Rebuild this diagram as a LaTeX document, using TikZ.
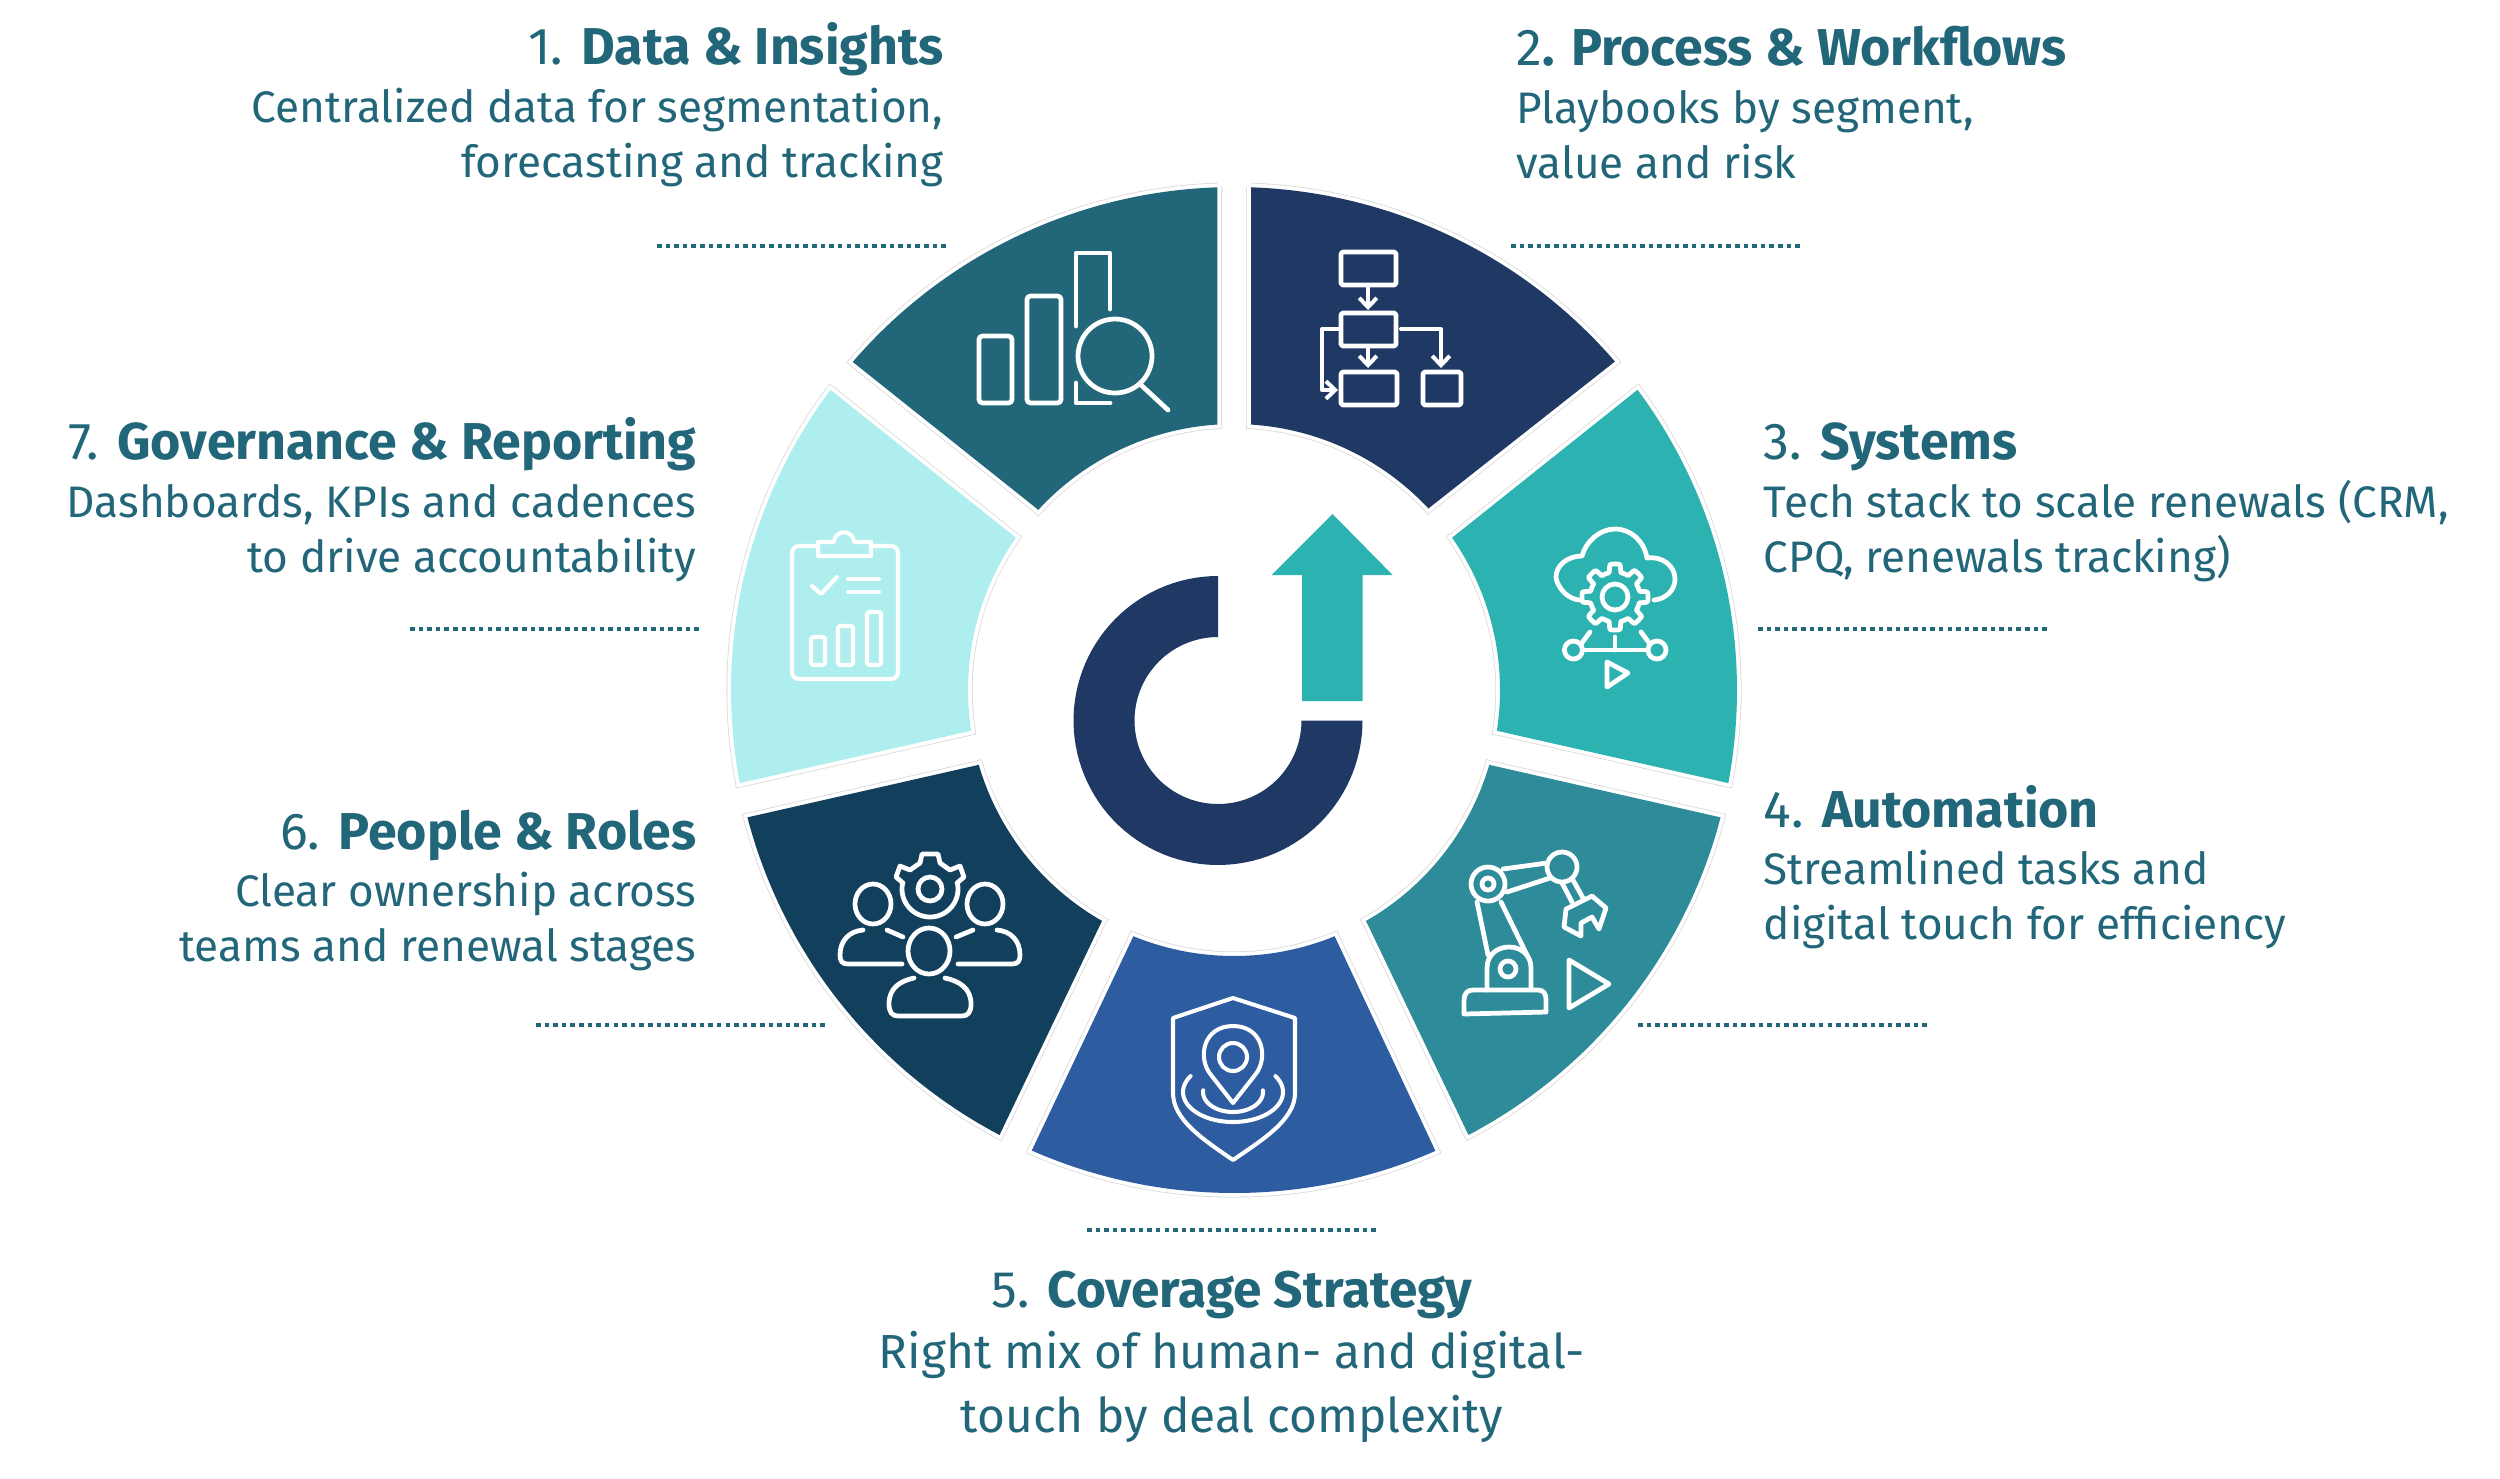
\documentclass[tikz,border=0pt]{standalone}
\usepackage{fontspec}
\setmainfont{Fira Sans}
\usetikzlibrary{arrows.meta}
\definecolor{txt}{HTML}{22667A}
\definecolor{wa}{HTML}{22667A}
\definecolor{wb}{HTML}{1F3864}
\definecolor{wc}{HTML}{2CB2B0}
\definecolor{wd}{HTML}{2E8B9A}
\definecolor{we}{HTML}{2D5CA0}
\definecolor{wf}{HTML}{113F5C}
\definecolor{wg}{HTML}{AFEEEE}
\definecolor{halo}{HTML}{D9D9D9}
\newcommand{\seg}[9]{%
  \pgfmathsetmacro{\oa}{atan2(#3-690,#2-1234)}%
  \pgfmathsetmacro{\ob}{atan2(#5-690,#4-1234)}%
  \pgfmathsetmacro{\ob}{\ob<\oa ? \ob+360 : \ob}%
  \pgfmathsetmacro{\ia}{atan2(#9-690,#8-1234)}%
  \pgfmathsetmacro{\ib}{atan2(#7-690,#6-1234)}%
  \pgfmathsetmacro{\ib}{\ib<\ia ? \ib+360 : \ib}%
  \def\segpath{(#2,#3) -- plot[domain=\oa:\ob,samples=60] ({1234+503*cos(\x)},{690+503*sin(\x)}) -- (#4,#5) -- (#6,#7) -- plot[domain=\ib:\ia,samples=40] ({1234+266*cos(\x)},{690+266*sin(\x)}) -- (#8,#9) -- cycle}%
  \draw[halo,line width=2.6pt,line join=miter] \segpath;
  \draw[white,line width=2.15pt,line join=miter] \segpath;
  \fill[#1] \segpath;
}
\newcommand{\lblR}[7]{% right-aligned: name,x,y1,y2,y3,title,lines
  \node[headtxt,anchor=base east] (#1t) at (#2,#3) {#6};
  \node[bodytxt,anchor=base east] (#1a) at (#2,#4) {\csname #7a\endcsname};
  \node[bodytxt,anchor=base east] (#1b) at (#2,#5) {\csname #7b\endcsname};
}
\newcommand{\lblL}[7]{%
  \node[headtxt,anchor=base west] (#1t) at (#2,#3) {#6};
  \node[bodytxt,anchor=base west] (#1a) at (#2,#4) {\csname #7a\endcsname};
  \node[bodytxt,anchor=base west] (#1b) at (#2,#5) {\csname #7b\endcsname};
}
\newcommand{\gearicon}[6]{% x,y,ro,ri,n,style
  \draw[#6] plot[domain=0:360,samples=220,smooth] ({#1+(#4+(#3-#4)*max(0,min(1,1.7*cos(#5*\x)+0.45)))*cos(\x)},{#2+(#4+(#3-#4)*max(0,min(1,1.7*cos(#5*\x)+0.45)))*sin(\x)}) -- cycle;
}
\def\ona{Centralized data for segmentation,}\def\onb{forecasting and tracking}
\def\twa{Playbooks by segment,}\def\twb{value and risk}
\def\tha{Tech stack to scale renewals (CRM,}\def\thb{CPQ, renewals tracking)}
\def\foa{Streamlined tasks and}\def\fob{digital touch for efficiency}
\def\sia{Clear ownership across}\def\sib{teams and renewal stages}
\def\sea{Dashboards, KPIs and cadences}\def\seb{to drive accountability}
\begin{document}
\begin{tikzpicture}[x=0.01cm,y=-0.01cm,
  headtxt/.style={inner sep=0pt,text=txt,font=\fontsize{14.75pt}{17pt}\selectfont},
  bodytxt/.style={inner sep=0pt,text=txt,font=\fontsize{12.55pt}{15pt}\selectfont},
  headbig/.style={inner sep=0pt,text=txt,font=\fontsize{14.6pt}{17pt}\selectfont},
  bodybig/.style={inner sep=0pt,text=txt,font=\fontsize{13.6pt}{16pt}\selectfont},
  dotrule/.style={draw=txt,line width=1.28pt,dash pattern=on 1.28pt off 1.17pt},
  ic/.style={draw=white,line width=1.35pt,line join=round,line cap=round},
  icthin/.style={draw=white,line width=1.15pt,line join=round,line cap=round}]
\useasboundingbox (0,0) rectangle (2500,1478);
\fill[white] (0,0) rectangle (2500,1478);

% wedges
\seg{wa}{853.7}{362.7}{1217.4}{187}{1217.4}{423}{1036}{508}
\seg{wb}{1251}{187}{1613}{363}{1429}{508}{1251}{423}
\seg{wc}{1636}{391}{1728}{783}{1498}{731}{1453}{537}
\seg{wd}{1719}{817}{1468}{1134}{1367}{923}{1490}{765}
\seg{we}{1435}{1150}{1032}{1150}{1133}{937}{1335}{937}
\seg{wf}{1000}{1134}{749}{817}{978}{765}{1101}{923}
\seg{wg}{740}{783}{832}{391}{1015}{537}{970}{731}

% central logo
\fill[wb] plot[domain=-90:-360,samples=90] ({1218+144.5*cos(\x)},{720.5+144.5*sin(\x)}) -- plot[domain=-360:-90,samples=90] ({1218+83.5*cos(\x)},{720.5+83.5*sin(\x)}) -- cycle;
\fill[wc] (1302,701) -- (1302,575) -- (1271.5,575) -- (1332.5,514) -- (1392.6,575) -- (1362.6,575) -- (1362.6,701) -- cycle;

% dotted rules
\coordinate (ra1) at (657,246); \coordinate (ra2) at (949,246);
\coordinate (rb1) at (1511,246); \coordinate (rb2) at (1802,246);
\coordinate (rc1) at (1758,629); \coordinate (rc2) at (2049,629);
\coordinate (rd1) at (1638,1025); \coordinate (rd2) at (1929,1025);
\coordinate (re1) at (1087,1230); \coordinate (re2) at (1378,1230);
\coordinate (rf1) at (536,1025); \coordinate (rf2) at (827,1025);
\coordinate (rg1) at (410,629); \coordinate (rg2) at (701,629);
\foreach \r in {a,b,c,d,e,f,g}{\draw[dotrule] (r\r1) -- (r\r2);}

% labels
\lblR{la}{944}{64}{122}{177}{1. \textbf{Data \& Insights}}{on}
\lblL{lb}{1516}{65}{123}{178}{2\textbf{. Process \& Workflows}}{tw}
\lblL{lc}{1763}{459}{517}{572}{3. \textbf{Systems}}{th}
\lblL{ld}{1763}{827}{884}{939}{4. \textbf{Automation}}{fo}
\lblR{lf}{697}{849}{906}{961}{6. \textbf{People \& Roles}}{si}
\lblR{lg}{697}{459}{517}{572}{7. \textbf{Governance \& Reporting}}{se}
\node[headbig,anchor=base] (let) at (1232,1307) {5. \textbf{Coverage Strategy}};
\node[bodybig,anchor=base] (lea) at (1232,1368) {Right mix of human- and digital-};
\node[bodybig,anchor=base] (leb) at (1232,1432) {touch by deal complexity};

% icon 1: bars and magnifier
\draw[ic,rounded corners=1pt] (979,336) rectangle (1012,403);
\draw[ic,rounded corners=1pt] (1027,296) rectangle (1061,403);
\draw[ic] (1076,326) -- (1076,253) -- (1110,253) -- (1110,309);
\draw[ic] (1076,383) -- (1076,403) -- (1110,403);
\draw[ic] (1115,356) circle[radius=37];
\draw[ic] (1141,385) -- (1168,410);

% icon 2: flowchart
\draw[ic,rounded corners=0.5pt] (1341,252) rectangle (1396,285);
\draw[ic,rounded corners=0.5pt] (1341,313) rectangle (1396,346);
\draw[ic,rounded corners=0.5pt] (1341,372) rectangle (1397,405);
\draw[ic,rounded corners=0.5pt] (1423,372) rectangle (1461,405);
\draw[icthin,-{Straight Barb[length=2.6pt,width=5pt]}] (1368,285) -- (1368,310);
\draw[icthin,-{Straight Barb[length=2.6pt,width=5pt]}] (1368,346) -- (1368,368);
\draw[icthin,-{Straight Barb[length=2.6pt,width=5pt]}] (1401,329) -- (1441,329) -- (1441,368);
\draw[icthin,-{Straight Barb[length=2.6pt,width=5pt]}] (1340,329) -- (1322,329) -- (1322,390) -- (1338,390);

% icon 3: cloud, gear, network
\draw[ic] (1579,600) .. controls (1563,598) and (1556,582) .. (1556,577) .. controls (1556,565) and (1568,556) .. (1582,556) .. controls (1586,541) and (1600,529) .. (1615,529) .. controls (1631,529) and (1644,541) .. (1647,558) .. controls (1664,556) and (1675,567) .. (1675,579) .. controls (1675,590) and (1666,599) .. (1654,600);
\gearicon{1615}{597}{33}{25}{8}{ic}
\draw[ic] (1615,597) circle[radius=13];
\draw[ic] (1573.4,650) circle[radius=9];
\draw[ic] (1657,650) circle[radius=9];
\draw[ic] (1582.5,650) -- (1648,650);
\draw[ic] (1615,637) -- (1615,650);
\draw[ic] (1590,632) -- (1581,644);
\draw[ic] (1641,632) -- (1650,644);
\draw[ic] (1607,662) -- (1628,673) -- (1607,687) -- cycle;

% icon 4: robot arm
\draw[ic] (1464,1014) -- (1464,1000) .. controls (1464,993) and (1468,990) .. (1473,990) -- (1538,990) .. controls (1544,990) and (1546,994) .. (1546,1000) -- (1546,1012) -- cycle;
\draw[ic] (1487,990) -- (1487,968) .. controls (1487,955) and (1497,947) .. (1509,947) .. controls (1521,947) and (1531,955) .. (1531,968) -- (1531,990);
\draw[ic] (1508,969) circle[radius=8];
\draw[ic] (1477,902) -- (1488,955);
\draw[ic] (1501,902) -- (1528,957);
\draw[ic] (1488,884) circle[radius=17];
\draw[ic] (1488,884) circle[radius=6];
\draw[ic] (1503,869) -- (1547,863);
\draw[ic] (1507,892) -- (1550,878);
\draw[ic] (1562,867) circle[radius=15];
\draw[ic] (1562,883) -- (1572,902);
\draw[ic] (1573,880) -- (1583,898);
\draw[ic] (1566,909) -- (1592,896) -- (1606,908) -- (1599,929) -- (1592,917) -- (1581,923) -- (1581,936) -- (1564,927) -- cycle;
\draw[ic] (1569,960) -- (1609,984) -- (1569,1008) -- cycle;

% icon 5: shield and pin
\draw[icthin] (1233,998) -- (1295,1018) -- (1295,1093) .. controls (1295,1120) and (1262,1140) .. (1233,1160) .. controls (1204,1140) and (1173,1120) .. (1173,1093) -- (1173,1018) -- cycle;
\draw[icthin] (1233,1103) -- (1211,1075) .. controls (1197,1058) and (1203,1026) .. (1233,1026) .. controls (1263,1026) and (1269,1058) .. (1255,1075) -- cycle;
\draw[icthin] (1233,1057) circle[radius=14];
\draw[icthin] plot[domain=-32:212,samples=60] ({1233+50*cos(\x)},{1092+30*sin(\x)});
\draw[icthin] plot[domain=-5:185,samples=40] ({1233+30*cos(\x)},{1092+20*sin(\x)});

% icon 6: people and gear
\draw[ic] (903,883) -- (896,877) -- (900,866) -- (910,870) -- (920,863) -- (922,854) -- (938,854) -- (940,863) -- (950,870) -- (960,866) -- (964,877) -- (957,883) -- plot[domain=-12:192,samples=40] ({930+28*cos(\x)},{889+28*sin(\x)}) -- cycle;
\draw[ic] (930,889) circle[radius=12];
\draw[ic] (873,904) ellipse[x radius=18,y radius=20];
\draw[ic] (985,904) ellipse[x radius=18,y radius=20];
\draw[ic] (929,951) ellipse[x radius=21,y radius=23];
\draw[ic] (863,930) .. controls (850,931) and (840,940) .. (840,955) .. controls (840,961) and (842,964) .. (848,964) -- (902,964);
\draw[ic] (887,930) -- (903,937);
\draw[ic] (997,930) .. controls (1010,931) and (1020,940) .. (1020,955) .. controls (1020,961) and (1018,964) .. (1012,964) -- (958,964);
\draw[ic] (973,930) -- (956,937);
\draw[ic] (914,978) .. controls (900,981) and (889,988) .. (889,1004) .. controls (889,1012) and (892,1016) .. (898,1016) -- (962,1016) .. controls (968,1016) and (971,1012) .. (971,1004) .. controls (971,988) and (959,981) .. (945,978);

% icon 7: clipboard
\draw[icthin] (818,546) -- (799,546) .. controls (795,546) and (792,549) .. (792,553) -- (792,672) .. controls (792,676) and (795,679) .. (799,679) -- (891,679) .. controls (895,679) and (898,676) .. (898,672) -- (898,553) .. controls (898,549) and (895,546) .. (891,546) -- (871,546);
\draw[icthin] (818,542) -- (834,542) .. controls (835,529) and (853,529) .. (854,542) -- (871,542) -- (871,556) -- (818,556) -- cycle;
\draw[icthin] (812,586) -- (821,594) -- (837,577);
\draw[icthin] (848,579) -- (879,579);
\draw[icthin] (848,592) -- (879,592);
\draw[icthin,rounded corners=0.5pt] (811,637) rectangle (825,665);
\draw[icthin,rounded corners=0.5pt] (838,626) rectangle (853,665);
\draw[icthin,rounded corners=0.5pt] (867,612) rectangle (881,665);
\end{tikzpicture}
\end{document}
